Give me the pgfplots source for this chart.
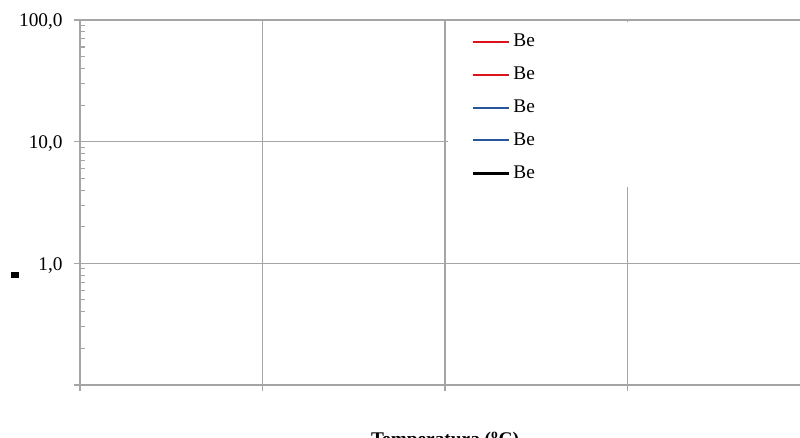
\documentclass[border=0pt]{standalone}
\usepackage{fontspec}
\setmainfont{Liberation Serif}
\usepackage{pgfplots}
\pgfplotsset{compat=1.18}
\definecolor{gridgray}{RGB}{165,165,165}
\definecolor{bered}{RGB}{220,20,25}
\definecolor{beblue}{RGB}{40,85,155}
\begin{document}
\fontsize{14.5}{17}\selectfont
\begin{tikzpicture}
\begin{axis}[
 at={(0,0)}, anchor=south west,
 scale only axis, width=540pt, height=273.75pt,
 xmin=0, xmax=3.945, ymode=log, ymin=0.1, ymax=100,
 axis x line*=bottom, axis y line*=left,
 axis line style={gridgray, line width=0.8pt},
 xtick={0,1,2,3}, xticklabels={},
 ytick={0.1,1,10,100}, yticklabels={,{1,0},{10,0},{100,0}},
 minor ytick={0.2,0.3,0.4,0.5,0.6,0.7,0.8,0.9,2,3,4,5,6,7,8,9,20,30,40,50,60,70,80,90},
 xmajorgrids, ymajorgrids, major grid style={gridgray, line width=0.8pt},
 tick align=outside, major tick length=4.5pt, minor tick length=3.75pt,
 tick style={gridgray, line width=0.8pt},
 minor tick style={xshift=3.75pt},
 /pgf/number format/assume math mode=true,
 yticklabel style={font=\fontsize{14.5}{17}\selectfont, xshift=-3.5pt, yshift=-1.5pt},
 xlabel={\bfseries Temperatura (\textsuperscript{o}C)},
 xlabel style={at={(axis description cs:0.507,0)}, anchor=base, yshift=-45.5pt, font=\fontsize{14.5}{17}\selectfont},
 ylabel={\rule{5.5pt}{4pt}},
 ylabel style={at={(axis description cs:0,0.301)}, anchor=center, rotate=-90, xshift=-48.75pt},
 legend style={at={(axis description cs:0.543,0.9645)}, anchor=north west, draw=none, fill=none,
   inner sep=0pt, row sep=11.65pt, column sep=2.3pt, font=\fontsize{14.5}{17}\selectfont,
   nodes={inner sep=0pt, text height=10pt, text depth=3pt}},
 legend cell align=left,
 legend image code/.code={\draw[#1] (0pt,0pt) -- (27pt,0pt);},
]
\fill[white] (rel axis cs:0.511,0.5425) rectangle (rel axis cs:1,0.9945);
\addlegendimage{bered, line width=1.5pt}
\addlegendentry{Be}
\addlegendimage{bered, line width=1.5pt}
\addlegendentry{Be}
\addlegendimage{beblue, line width=1.5pt}
\addlegendentry{Be}
\addlegendimage{beblue, line width=1.5pt}
\addlegendentry{Be}
\addlegendimage{black, line width=2.4pt}
\addlegendentry{Be}
\end{axis}
\pgfresetboundingbox
\useasboundingbox (-60pt,-39.75pt) rectangle (540pt,288.75pt);
\end{tikzpicture}
\end{document}
